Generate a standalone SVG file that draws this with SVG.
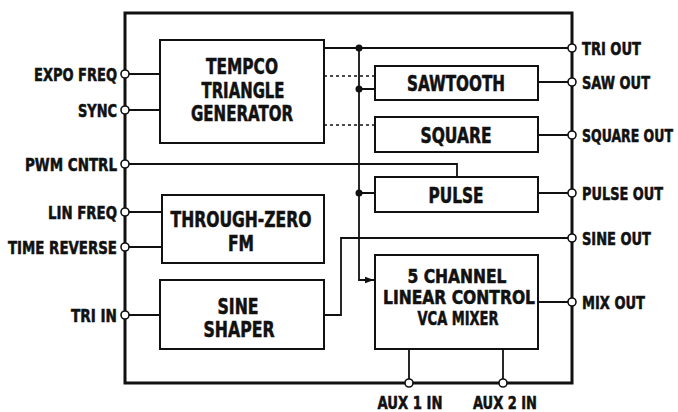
<svg xmlns="http://www.w3.org/2000/svg" width="678" height="412" viewBox="0 0 678 412">
<style>
text{font-family:"Liberation Sans Narrow","DejaVu Sans Condensed","Liberation Sans",sans-serif;font-weight:bold;fill:#111;stroke:#111;stroke-width:0.55;}
.lbl{font-size:18.5px;}
.bx{font-size:22px;text-anchor:middle;}
.vc{font-size:19.5px;}
.l{text-anchor:end;}
.box{fill:#fff;stroke:#111;stroke-width:2;}
.w{fill:none;stroke:#111;stroke-width:1.8;}
.d{fill:none;stroke:#111;stroke-width:1.5;stroke-dasharray:3,3;}
.pin{fill:#fff;stroke:#111;stroke-width:1.6;}
.dot{fill:#111;}
</style>
<defs>
<marker id="arr" markerWidth="10" markerHeight="8" refX="9" refY="4" orient="auto" markerUnits="userSpaceOnUse">
<path d="M0,0.8 L9,4 L0,7.2 Z" fill="#111"/>
</marker>
</defs>
<g id="connectors">
<path class="w" d="M125,74H160M125,110H160M125,164H457V177M125,212H162M125,247H162M125,315H160"/>
<path class="w" d="M324,48H572M359,48V280H374" marker-end="url(#arr)"/>
<path class="w" d="M359,89H375M359,193H375"/>
<path class="d" d="M324,76H375M324,125H375"/>
<path class="w" d="M538,82H572M538,135H572M538,193H572M538,302H572"/>
<path class="w" d="M324,315H341V238H572"/>
<path class="w" d="M409,349V383M503,349V383"/>
<circle class="dot" cx="359" cy="48" r="3.5"/>
<circle class="dot" cx="359" cy="89" r="3.5"/>
<circle class="dot" cx="359" cy="193" r="3.5"/>
</g>
<rect id="frame" x="125" y="13" width="447" height="370" fill="none" stroke="#111" stroke-width="3"/>
<g id="tempco"><rect class="box" x="160" y="40" width="164" height="103"/>
<text class="bx" x="242" y="74" textLength="72" lengthAdjust="spacingAndGlyphs">TEMPCO</text>
<text class="bx" x="243" y="97.5" textLength="83" lengthAdjust="spacingAndGlyphs">TRIANGLE</text>
<text class="bx" x="242" y="121" textLength="102" lengthAdjust="spacingAndGlyphs">GENERATOR</text></g>
<g id="sawtooth"><rect class="box" x="375" y="66" width="163" height="34"/>
<text class="bx" x="456" y="91" textLength="98" lengthAdjust="spacingAndGlyphs">SAWTOOTH</text></g>
<g id="square"><rect class="box" x="375" y="117" width="163" height="35"/>
<text class="bx" x="456" y="143" textLength="71" lengthAdjust="spacingAndGlyphs">SQUARE</text></g>
<g id="pulse"><rect class="box" x="375" y="177" width="163" height="35"/>
<text class="bx" x="456" y="203" textLength="55" lengthAdjust="spacingAndGlyphs">PULSE</text></g>
<g id="tzfm"><rect class="box" x="162" y="195" width="162" height="68"/>
<text class="bx" x="241" y="227" textLength="141" lengthAdjust="spacingAndGlyphs">THROUGH-ZERO</text>
<text class="bx" x="241" y="251" textLength="26" lengthAdjust="spacingAndGlyphs">FM</text></g>
<g id="sine"><rect class="box" x="160" y="280" width="164" height="69"/>
<text class="bx" x="238" y="314" textLength="41" lengthAdjust="spacingAndGlyphs">SINE</text>
<text class="bx" x="239" y="337" textLength="71" lengthAdjust="spacingAndGlyphs">SHAPER</text></g>
<g id="vca"><rect class="box" x="375" y="255" width="163" height="94"/>
<text class="bx vc" x="457" y="283" textLength="99" lengthAdjust="spacingAndGlyphs">5 CHANNEL</text>
<text class="bx vc" x="459" y="304" textLength="152" lengthAdjust="spacingAndGlyphs">LINEAR CONTROL</text>
<text class="bx vc" x="458" y="325" textLength="81" lengthAdjust="spacingAndGlyphs">VCA MIXER</text></g>
<g id="pins">
<circle class="pin" cx="125" cy="74" r="4"/>
<circle class="pin" cx="125" cy="110" r="4"/>
<circle class="pin" cx="125" cy="164" r="4"/>
<circle class="pin" cx="125" cy="212" r="4"/>
<circle class="pin" cx="125" cy="247" r="4"/>
<circle class="pin" cx="125" cy="315" r="4"/>
<circle class="pin" cx="572" cy="48" r="4"/>
<circle class="pin" cx="572" cy="82" r="4"/>
<circle class="pin" cx="572" cy="135" r="4"/>
<circle class="pin" cx="572" cy="193" r="4"/>
<circle class="pin" cx="572" cy="238" r="4"/>
<circle class="pin" cx="572" cy="302" r="4"/>
<circle class="pin" cx="409" cy="383" r="4"/>
<circle class="pin" cx="503" cy="383" r="4"/>
</g>
<g id="labels">
<text class="lbl l" x="117" y="81" textLength="83" lengthAdjust="spacingAndGlyphs">EXPO FREQ</text>
<text class="lbl l" x="117" y="117" textLength="39" lengthAdjust="spacingAndGlyphs">SYNC</text>
<text class="lbl l" x="117" y="171" textLength="92" lengthAdjust="spacingAndGlyphs">PWM CNTRL</text>
<text class="lbl l" x="117" y="219" textLength="69" lengthAdjust="spacingAndGlyphs">LIN FREQ</text>
<text class="lbl l" x="117" y="254" textLength="109" lengthAdjust="spacingAndGlyphs">TIME REVERSE</text>
<text class="lbl l" x="117" y="322" textLength="46" lengthAdjust="spacingAndGlyphs">TRI IN</text>
<text class="lbl" x="582" y="55" textLength="59" lengthAdjust="spacingAndGlyphs">TRI OUT</text>
<text class="lbl" x="582" y="89" textLength="68" lengthAdjust="spacingAndGlyphs">SAW OUT</text>
<text class="lbl" transform="translate(582,142) scale(0.76,1)" x="0" y="0" textLength="119.7" lengthAdjust="spacingAndGlyphs">SQUARE OUT</text>
<text class="lbl" transform="translate(582,200) scale(0.76,1)" x="0" y="0" textLength="106.6" lengthAdjust="spacingAndGlyphs">PULSE OUT</text>
<text class="lbl" x="582" y="245" textLength="69" lengthAdjust="spacingAndGlyphs">SINE OUT</text>
<text class="lbl" x="582" y="309" textLength="63" lengthAdjust="spacingAndGlyphs">MIX OUT</text>
<text class="lbl" x="410" y="409" text-anchor="middle" textLength="65" lengthAdjust="spacingAndGlyphs">AUX 1 IN</text>
<text class="lbl" x="505" y="409" text-anchor="middle" textLength="64" lengthAdjust="spacingAndGlyphs">AUX 2 IN</text>
</g>
</svg>
